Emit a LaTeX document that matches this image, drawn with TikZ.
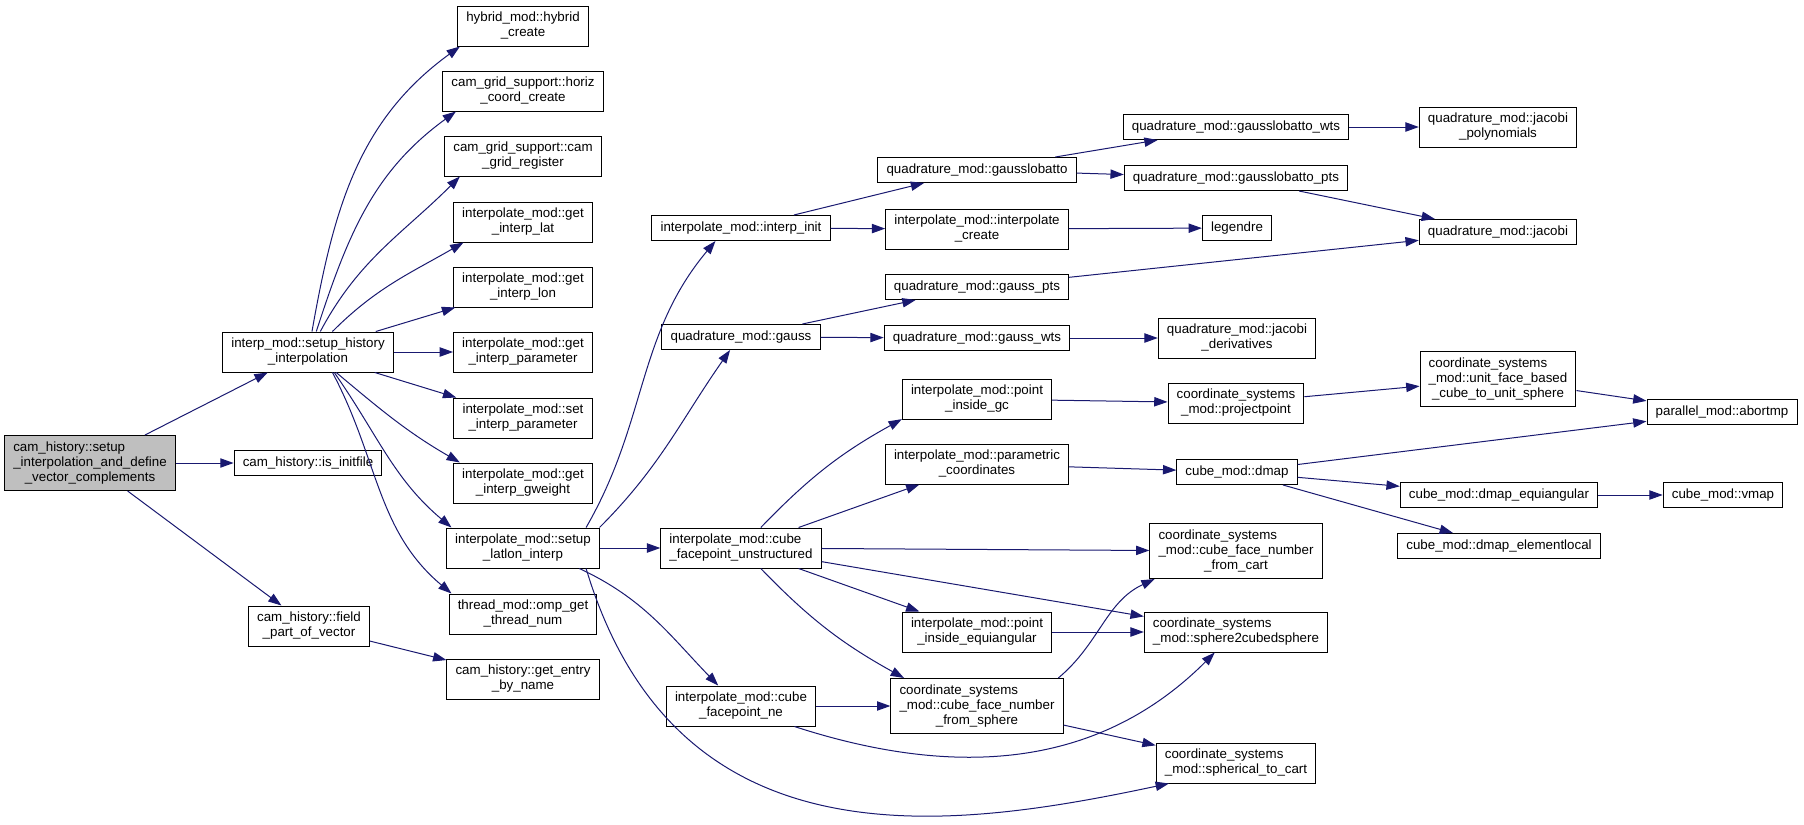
\documentclass[tikz,border=0pt]{standalone}
\usepackage{fontspec}
\setmainfont{Liberation Sans}
\usetikzlibrary{arrows.meta}

% first line flush left, the others centred (as graphviz prints them)
\newcommand{\fnlines}[2]{\begin{tabular}{@{}c@{}}\multicolumn{1}{@{}l@{}}{#1}\\#2\end{tabular}}

\begin{document}
\begin{tikzpicture}[x=0.75pt, y=0.75pt,
    fnbox/.style={draw=borderColour, line width=0.75pt, fill=white, inner xsep=6.5pt, inner ysep=2pt, font=\fontsize{10}{11.25}\selectfont},
    fn/.style={fnbox, minimum height=18.75pt, text height=7.3pt, text depth=2.2pt},
    fn2/.style={fnbox, minimum height=30pt},
    fn3/.style={fnbox, minimum height=41.25pt},
    call/.style={draw=callColour, line width=0.75pt, -{Triangle[length=10pt,width=7pt]}}]

    \definecolor{borderColour}{HTML}{000000}
    \definecolor{callColour}{HTML}{191970}
    \definecolor{fillColourRoot}{HTML}{BFBFBF}

    \useasboundingbox (0,0) rectangle (1804,-825);

    % Caller and first level
    \node[fn3, fill=fillColourRoot] (root) at (90,-463) {\fnlines{cam\_history::setup}{\_interpolation\_and\_define\\\_vector\_complements}};
    \node[fn2] (hist) at (308,-352) {\fnlines{interp\_mod::setup\_history}{\_interpolation}};
    \node[fn] (isinit) at (308,-463) {cam\_history::is\_initfile};
    \node[fn2] (fieldvec) at (309,-626) {\fnlines{cam\_history::field}{\_part\_of\_vector}};

    % Second level
    \node[fn2] (hybrid) at (523,-26) {\fnlines{hybrid\_mod::hybrid}{\_create}};
    \node[fn2] (horiz) at (523,-91) {\fnlines{cam\_grid\_support::horiz}{\_coord\_create}};
    \node[fn2] (gridreg) at (523,-156) {\fnlines{cam\_grid\_support::cam}{\_grid\_register}};
    \node[fn2] (getlat) at (523,-222) {\fnlines{interpolate\_mod::get}{\_interp\_lat}};
    \node[fn2] (getlon) at (523,-287) {\fnlines{interpolate\_mod::get}{\_interp\_lon}};
    \node[fn2] (getparam) at (523,-352) {\fnlines{interpolate\_mod::get}{\_interp\_parameter}};
    \node[fn2] (setparam) at (523,-418) {\fnlines{interpolate\_mod::set}{\_interp\_parameter}};
    \node[fn2] (gweight) at (523,-483) {\fnlines{interpolate\_mod::get}{\_interp\_gweight}};
    \node[fn2] (latlon) at (523,-548) {\fnlines{interpolate\_mod::setup}{\_latlon\_interp}};
    \node[fn2] (ompnum) at (523,-614) {\fnlines{thread\_mod::omp\_get}{\_thread\_num}};
    \node[fn2] (getentry) at (523,-679) {\fnlines{cam\_history::get\_entry}{\_by\_name}};

    % Third level
    \node[fn] (interpinit) at (741,-228) {interpolate\_mod::interp\_init};
    \node[fn] (gauss) at (741,-337) {quadrature\_mod::gauss};
    \node[fn2] (cubeunstr) at (741,-548) {\fnlines{interpolate\_mod::cube}{\_facepoint\_unstructured}};
    \node[fn2] (cubene) at (741,-706) {\fnlines{interpolate\_mod::cube}{\_facepoint\_ne}};

    % Fourth level
    \node[fn] (glob) at (977,-170) {quadrature\_mod::gausslobatto};
    \node[fn2] (interpcreate) at (977,-229) {\fnlines{interpolate\_mod::interpolate}{\_create}};
    \node[fn] (gpts) at (977,-287) {quadrature\_mod::gauss\_pts};
    \node[fn] (gwts) at (977,-338) {quadrature\_mod::gauss\_wts};
    \node[fn2] (ptgc) at (977,-399) {\fnlines{interpolate\_mod::point}{\_inside\_gc}};
    \node[fn2] (paramcoord) at (977,-464) {\fnlines{interpolate\_mod::parametric}{\_coordinates}};
    \node[fn2] (ptequi) at (977,-632) {\fnlines{interpolate\_mod::point}{\_inside\_equiangular}};
    \node[fn3] (cfsphere) at (977,-706) {\fnlines{coordinate\_systems}{\_mod::cube\_face\_number\\\_from\_sphere}};

    % Fifth level
    \node[fn] (globwts) at (1236,-127) {quadrature\_mod::gausslobatto\_wts};
    \node[fn] (globpts) at (1236,-178) {quadrature\_mod::gausslobatto\_pts};
    \node[fn] (legendre) at (1237,-228) {legendre};
    \node[fn2] (jacderiv) at (1237,-338) {\fnlines{quadrature\_mod::jacobi}{\_derivatives}};
    \node[fn2] (projpt) at (1236,-403) {\fnlines{coordinate\_systems}{\_mod::projectpoint}};
    \node[fn] (dmap) at (1237,-472) {cube\_mod::dmap};
    \node[fn3] (cfcart) at (1236,-551) {\fnlines{coordinate\_systems}{\_mod::cube\_face\_number\\\_from\_cart}};
    \node[fn2] (sph2cube) at (1236,-632) {\fnlines{coordinate\_systems}{\_mod::sphere2cubedsphere}};
    \node[fn2] (sphcart) at (1236,-763) {\fnlines{coordinate\_systems}{\_mod::spherical\_to\_cart}};

    % Sixth and seventh level
    \node[fn2] (jacpoly) at (1498,-127) {\fnlines{quadrature\_mod::jacobi}{\_polynomials}};
    \node[fn] (jacobi) at (1498,-232) {quadrature\_mod::jacobi};
    \node[fn3] (unitface) at (1498,-379) {\fnlines{coordinate\_systems}{\_mod::unit\_face\_based\\\_cube\_to\_unit\_sphere}};
    \node[fn] (dmapequi) at (1499,-495) {cube\_mod::dmap\_equiangular};
    \node[fn] (dmaploc) at (1499,-546) {cube\_mod::dmap\_elementlocal};
    \node[fn] (abortmp) at (1722,-412) {parallel\_mod::abortmp};
    \node[fn] (vmap) at (1723,-495) {cube\_mod::vmap};

    % Calls from the caller
    \draw[call] (root) -- (hist);
    \draw[call] (root) -- (isinit);
    \draw[call] (root) -- (fieldvec);
    \draw[call] (fieldvec) -- (getentry);

    % Calls from setup_history_interpolation
    \draw[call] (hist.79) to[out=80,in=216] (hybrid.198);
    \draw[call] (hist.68) to[out=72,in=216] (horiz.197);
    \draw[call] (hist.59) to[out=62,in=225] (gridreg.198);
    \draw[call] (hist.40) to[out=45,in=210] (getlat.199);
    \draw[call] (hist) -- (getlon);
    \draw[call] (hist) -- (getparam);
    \draw[call] (hist) -- (setparam);
    \draw[call] (hist.-36) to[out=-40,in=150] (gweight.162);
    \draw[call] (hist.-38) to[out=-55,in=140] (latlon.164);
    \draw[call] (hist.-40) to[out=-62,in=140] (ompnum.164);

    % Calls from setup_latlon_interp
    \draw[call] (latlon.18) to[out=60,in=230] (interpinit.207);
    \draw[call] (latlon.15) to[out=45,in=235] (gauss.230);
    \draw[call] (latlon) -- (cubeunstr);
    \draw[call] (latlon.-20) to[out=-25,in=134] (cubene.138);
    \draw[call] (latlon.-18) .. controls +(90,-300) and +(-221,-47) .. (sphcart.197);

    % Quadrature calls
    \draw[call] (interpinit) -- (glob);
    \draw[call] (interpinit) -- (interpcreate);
    \draw[call] (glob) -- (globwts);
    \draw[call] (glob) -- (globpts);
    \draw[call] (globwts) -- (jacpoly);
    \draw[call] (globpts) -- (jacobi);
    \draw[call] (interpcreate) -- (legendre);
    \draw[call] (gauss) -- (gpts);
    \draw[call] (gauss) -- (gwts);
    \draw[call] (gpts) -- (jacobi);
    \draw[call] (gwts) -- (jacderiv);

    % Calls from cube_facepoint_unstructured
    \draw[call] (cubeunstr.46) to[out=46,in=209] (ptgc.195);
    \draw[call] (cubeunstr) -- (paramcoord);
    \draw[call] (cubeunstr) -- (cfcart);
    \draw[call] (cubeunstr) -- (sph2cube);
    \draw[call] (cubeunstr) -- (ptequi);
    \draw[call] (cubeunstr.-46) to[out=-46,in=151] (cfsphere.159);

    % Coordinate system calls
    \draw[call] (ptgc) -- (projpt);
    \draw[call] (projpt) -- (unitface);
    \draw[call] (unitface) -- (abortmp);
    \draw[call] (paramcoord) -- (dmap);
    \draw[call] (dmap) -- (abortmp);
    \draw[call] (dmap) -- (dmapequi);
    \draw[call] (dmap) -- (dmaploc);
    \draw[call] (dmapequi) -- (vmap);
    \draw[call] (ptequi) -- (sph2cube);
    \draw[call] (cubene) -- (cfsphere);
    \draw[call] (cubene.-21) to[out=-18,in=225] (sph2cube.224);
    \draw[call] (cfsphere.19) to[out=40,in=205] (cfcart.199);
    \draw[call] (cfsphere) -- (sphcart);

\end{tikzpicture}
\end{document}
